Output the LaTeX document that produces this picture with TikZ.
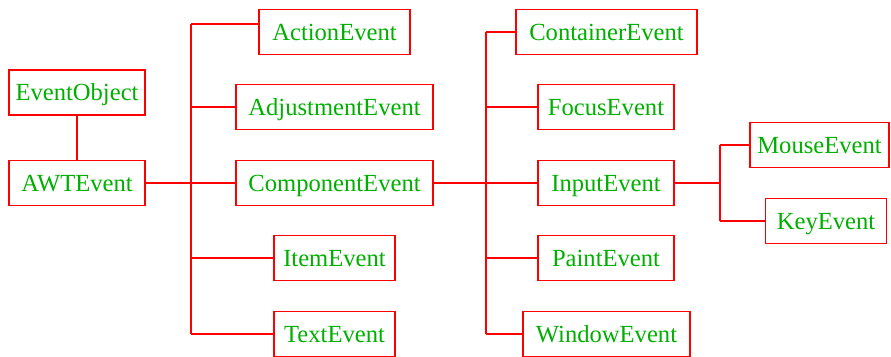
\documentclass[tikz,border=0pt]{standalone}
\usepackage{fontspec}
\setmainfont{Liberation Serif}
\usepackage{xcolor}
\usepackage{tikz}
\definecolor{evgreen}{RGB}{0,175,0}
\definecolor{evred}{RGB}{255,0,0}

\begin{document}
\begin{tikzpicture}[x=0.025cm, y=-0.025cm,
    evbox/.style={draw=evred, line width=1.2pt, text=evgreen, inner sep=1pt,
      minimum height=1.125cm, text height=11.6pt, text depth=0pt,
      font=\fontsize{17.5}{21}\selectfont},
    link/.style={evred, line width=1.2pt}]
  % canvas in pixel units of the reference (y grows downwards)
  \useasboundingbox (0,0) rectangle (891,356);
  % ============= root =============
  \node[evbox, minimum width=3.4cm]   (EventObject)     at (77,92.5)  {EventObject};
  \node[evbox, minimum width=3.4cm]   (AWTEvent)        at (77,183)   {AWTEvent};
  % ============= AWTEvent subclasses =============
  \node[evbox, minimum width=3.775cm] (ActionEvent)     at (334.5,32) {ActionEvent};
  \node[evbox, minimum width=4.925cm] (AdjustmentEvent) at (334.5,107){AdjustmentEvent};
  \node[evbox, minimum width=4.925cm] (ComponentEvent)  at (334.5,183){ComponentEvent};
  \node[evbox, minimum width=3.025cm] (ItemEvent)       at (334.5,258){ItemEvent};
  \node[evbox, minimum width=3.025cm] (TextEvent)       at (334.5,334){TextEvent};
  % ============= ComponentEvent subclasses =============
  \node[evbox, minimum width=4.525cm] (ContainerEvent)  at (606.5,32) {ContainerEvent};
  \node[evbox, minimum width=3.4cm]   (FocusEvent)      at (606,107)  {FocusEvent};
  \node[evbox, minimum width=3.4cm]   (InputEvent)      at (606,183)  {InputEvent};
  \node[evbox, minimum width=3.4cm]   (PaintEvent)      at (606,258)  {PaintEvent};
  \node[evbox, minimum width=4.175cm] (WindowEvent)     at (606.5,334){WindowEvent};
  % ============= InputEvent subclasses =============
  \node[evbox, minimum width=3.475cm] (MouseEvent)      at (819.5,145){MouseEvent};
  \node[evbox, minimum width=3.025cm] (KeyEvent)        at (826,221)  {KeyEvent};
  % --- trunks ---
  \coordinate (awtTrunk)   at (191,0);
  \coordinate (compTrunk)  at (486,0);
  \coordinate (inputTrunk) at (720,0);
  \coordinate (actionEnd)  at ([yshift=0.2cm]ActionEvent.west);
  % --- EventObject -> AWTEvent ---
  \draw[link] (EventObject) -- (AWTEvent);
  % --- AWTEvent -> children ---
  \draw[link] (AWTEvent.east) -- (ComponentEvent.west);
  \draw[link] (actionEnd -| awtTrunk) -- (TextEvent.west -| awtTrunk);
  \draw[link] (actionEnd -| awtTrunk) -- (actionEnd);
  \foreach \child in {AdjustmentEvent,ItemEvent,TextEvent}
    \draw[link] (\child.west -| awtTrunk) -- (\child.west);
  % --- ComponentEvent -> children ---
  \draw[link] (ComponentEvent.east) -- (InputEvent.west);
  \draw[link] (ContainerEvent.west -| compTrunk) -- (WindowEvent.west -| compTrunk);
  \foreach \child in {ContainerEvent,FocusEvent,PaintEvent,WindowEvent}
    \draw[link] (\child.west -| compTrunk) -- (\child.west);
  % --- InputEvent -> children ---
  \draw[link] (InputEvent.east) -- (InputEvent.east -| inputTrunk);
  \draw[link] (MouseEvent.west -| inputTrunk) -- (KeyEvent.west -| inputTrunk);
  \foreach \child in {MouseEvent,KeyEvent}
    \draw[link] (\child.west -| inputTrunk) -- (\child.west);
\end{tikzpicture}
\end{document}
